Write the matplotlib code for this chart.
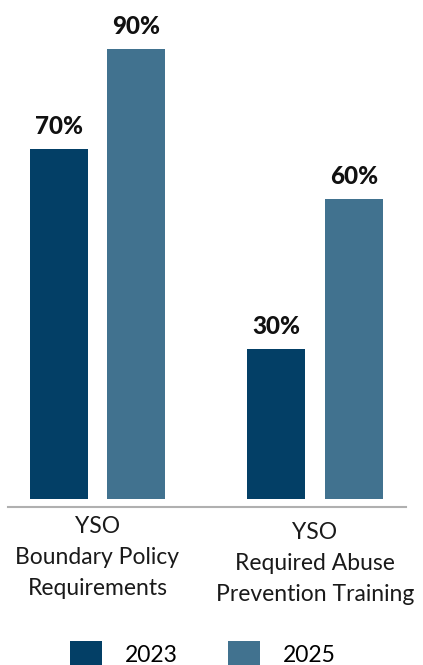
import matplotlib
matplotlib.use("Agg")
import matplotlib.pyplot as plt
from matplotlib.patches import Patch

plt.rcParams['font.family'] = ['Lato', 'DejaVu Sans']

categories = ["YSO\nBoundary Policy\nRequirements", "YSO\nRequired Abuse\nPrevention Training"]
series_names = ["2023", "2025"]
values_2023 = [70, 30]
values_2025 = [90, 60]
colors = ["#033f66", "#41728f"]

W, H = 423, 665
fig = plt.figure(figsize=(W / 100, H / 100), dpi=100)
ax = fig.add_axes([8 / W, 1 - 507 / H, 398 / W, 507 / H])

width = 0.267
off = 0.178
xs = [0, 1]
for vals, sign, col in [(values_2023, -1, colors[0]), (values_2025, 1, colors[1])]:
    pos = [x + sign * off for x in xs]
    ax.bar(pos, vals, width=width, color=col)
    for p, v in zip(pos, vals):
        ax.annotate(f"{v}%", (p, v), xytext=(0, 10.8), textcoords="offset points",
                    ha="center", va="baseline", fontsize=17.5, fontweight="black", color="#111111")

ax.set_xlim(-0.411, 1.418)
ax.set_ylim(-1.6, 99.8)
for s in ["top", "right", "left"]:
    ax.spines[s].set_visible(False)
ax.spines["bottom"].set_color("#b0b0b0")
ax.spines["bottom"].set_linewidth(1.5)
ax.set_yticks([])
ax.set_xticks([])

label_offsets = [-3.4, -4.6]
for x, lab, yo in zip(xs, categories, label_offsets):
    ax.text(x, yo, lab, ha="center", va="top", fontsize=16.5, color="#1a1a1a",
            linespacing=1.6, clip_on=False)

handles = [Patch(facecolor=c, edgecolor="none") for c in colors]
fig.legend(handles, series_names, loc="upper center", bbox_to_anchor=(0.48, 1 - 641 / H),
           ncol=2, frameon=False, fontsize=16.5, handlelength=1.4, handleheight=1.4,
           handletextpad=1.0, columnspacing=2.2, borderaxespad=0, borderpad=0)

fig.savefig("out.png", dpi=100)
